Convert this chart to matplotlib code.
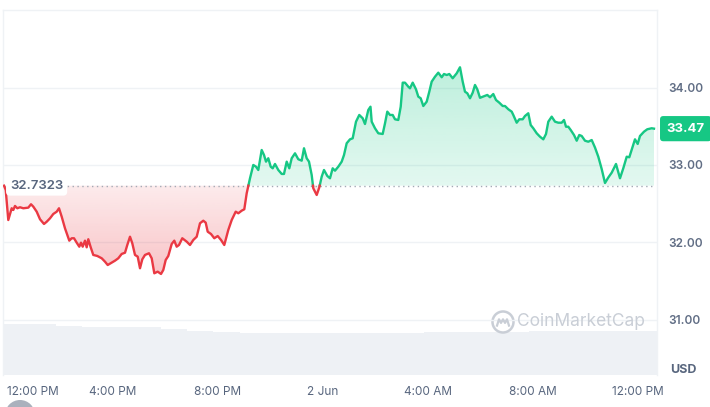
import numpy as np
import matplotlib.pyplot as plt
from matplotlib.colors import to_rgb
from matplotlib.patches import Ellipse
from matplotlib.lines import Line2D

plt.rcParams['font.family'] = ['Inter', 'DejaVu Sans']

# hours since 12:00 PM (1 Jun) and price in USD
hours = [-0.114, -0.049, 0.049, 0.179, 0.240, 0.304, 0.392, 0.494, 0.620, 0.810,
         0.913, 1.000, 1.129, 1.255, 1.407, 1.510, 1.635, 1.760, 1.890, 1.977,
         2.080, 2.205, 2.369, 2.460, 2.548, 2.650, 2.749, 2.814, 2.878, 2.966,
         3.030, 3.091, 3.183, 3.281, 3.433, 3.601, 3.726, 3.829, 3.981, 4.106,
         4.232, 4.361, 4.487, 4.574, 4.677, 4.764, 4.867, 4.970, 5.057, 5.145,
         5.247, 5.399, 5.502, 5.601, 5.730, 5.856, 5.943, 6.034, 6.133, 6.262,
         6.361, 6.452, 6.540, 6.665, 6.833, 6.958, 7.084, 7.213, 7.338, 7.464,
         7.555, 7.631, 7.757, 7.882, 8.011, 8.137, 8.262, 8.414, 8.544, 8.696,
         8.795, 8.924, 9.023, 9.114, 9.240, 9.365, 9.468, 9.555, 9.684, 9.772,
         9.848, 9.935, 10.027, 10.103, 10.190, 10.316, 10.445, 10.532, 10.635, 10.734,
         10.825, 10.951, 11.076, 11.205, 11.293, 11.395, 11.483, 11.585, 11.646, 11.776,
         11.875, 11.966, 12.053, 12.179, 12.281, 12.384, 12.471, 12.597, 12.726, 12.814,
         12.916, 13.042, 13.144, 13.270, 13.395, 13.525, 13.612, 13.738, 13.821, 13.867,
         13.992, 14.118, 14.285, 14.373, 14.460, 14.563, 14.665, 14.753, 14.878, 14.970,
         15.046, 15.133, 15.259, 15.323, 15.426, 15.551, 15.639, 15.730, 15.829, 15.958,
         16.057, 16.148, 16.274, 16.399, 16.529, 16.616, 16.719, 16.818, 16.947, 17.099,
         17.224, 17.327, 17.414, 17.502, 17.605, 17.707, 17.795, 17.882, 17.985, 18.137,
         18.262, 18.365, 18.490, 18.593, 18.719, 18.848, 18.935, 19.061, 19.190, 19.251,
         19.380, 19.479, 19.608, 19.696, 19.821, 19.913, 20.011, 20.141, 20.266, 20.392,
         20.494, 20.582, 20.711, 20.837, 20.962, 21.091, 21.179, 21.255, 21.342, 21.433,
         21.559, 21.662, 21.760, 21.852, 21.977, 22.103, 22.232, 22.357, 22.483, 22.612,
         22.738, 22.863, 22.992, 23.156, 23.308, 23.433, 23.563, 23.662, 23.791, 23.878,
         23.981, 24.068, 24.221, 24.346, 24.513, 24.601]
price = [32.7323, 32.677, 32.288, 32.440, 32.418, 32.470, 32.440, 32.453, 32.440, 32.448,
         32.492, 32.461, 32.396, 32.298, 32.237, 32.266, 32.310, 32.366, 32.396, 32.440,
         32.331, 32.181, 32.021, 32.052, 32.052, 31.995, 31.943, 31.995, 31.943, 32.021,
         31.935, 32.039, 31.935, 31.836, 31.823, 31.793, 31.749, 31.706, 31.736, 31.762,
         31.793, 31.849, 31.865, 31.965, 32.072, 31.987, 31.836, 31.814, 31.664, 31.780,
         31.836, 31.858, 31.793, 31.599, 31.620, 31.590, 31.642, 31.771, 31.823, 31.978,
         32.021, 31.943, 31.965, 32.052, 32.008, 31.965, 32.030, 32.072, 32.246, 32.279,
         32.254, 32.137, 32.107, 32.052, 32.081, 32.030, 31.965, 32.159, 32.288, 32.396,
         32.375, 32.409, 32.427, 32.634, 32.828, 33.000, 32.978, 32.935, 33.194, 33.129,
         33.043, 33.087, 32.978, 32.957, 33.013, 32.935, 32.884, 32.884, 33.043, 32.957,
         33.087, 33.151, 33.074, 33.056, 33.216, 33.087, 33.043, 32.871, 32.699, 32.612,
         32.711, 32.849, 32.935, 32.858, 32.828, 32.957, 32.926, 32.978, 33.043, 33.129,
         33.281, 33.332, 33.345, 33.560, 33.647, 33.604, 33.530, 33.712, 33.754, 33.560,
         33.475, 33.410, 33.401, 33.539, 33.690, 33.647, 33.647, 33.591, 33.582, 33.754,
         34.065, 34.065, 34.013, 33.992, 34.065, 33.979, 33.884, 33.863, 33.763, 33.819,
         33.948, 34.078, 34.142, 34.194, 34.135, 34.177, 34.164, 34.177, 34.122, 34.186,
         34.264, 34.078, 33.948, 33.928, 33.863, 33.935, 34.035, 33.979, 33.869, 33.889,
         33.906, 33.876, 33.918, 33.841, 33.806, 33.763, 33.763, 33.721, 33.690, 33.647,
         33.547, 33.591, 33.591, 33.634, 33.669, 33.517, 33.475, 33.410, 33.366, 33.332,
         33.401, 33.560, 33.625, 33.560, 33.547, 33.547, 33.582, 33.495, 33.495, 33.453,
         33.388, 33.314, 33.388, 33.375, 33.314, 33.301, 33.323, 33.226, 33.107, 32.948,
         32.767, 32.838, 32.900, 33.013, 32.828, 32.957, 33.107, 33.100, 33.237, 33.332,
         33.272, 33.375, 33.431, 33.462, 33.475, 33.470]
base_price = 32.7323
last_price = 33.47

# hourly 24h-volume bars (relative units)
volume = [51.0, 51.0, 49.5, 48.3, 48.3, 48.3, 46.5, 44.5, 43.2, 42.2,
          41.7, 41.7, 42.0, 42.3, 42.3, 42.5, 43.0, 43.0, 43.3, 43.5,
          43.7, 43.7, 43.7, 43.7, 43.7]
volume_start = -0.15

xtick_hours = [0, 4, 8, 12, 16, 20, 24]
xtick_labels = ['12:00 PM', '4:00 PM', '8:00 PM', '2 Jun', '4:00 AM', '8:00 AM', '12:00 PM']
ytick_values = [31, 32, 33, 34]

GREEN = '#16c784'
RED = '#ea3943'
GRID = '#eff2f5'
TEXT = '#58667e'

fig = plt.figure(figsize=(7.1, 4.07), dpi=100, facecolor='white')
ax = fig.add_axes([3 / 710, 1 - 375 / 407, 654 / 710, 365 / 407])
ax2 = ax.twinx()

# volume in the background
vx = volume_start + np.arange(len(volume))
ax2.bar(vx, volume, width=1.0, align='edge', color='#eef1f5', lw=0)
ax2.set_ylim(0, max(volume) * 365 / 51)
ax2.set_yticks([])
for s in ax2.spines.values():
    s.set_visible(False)
ax.set_zorder(ax2.get_zorder() + 1)
ax.patch.set_visible(False)

# insert baseline crossings so the colour switch is exact
t = np.array(hours)
p = np.array(price)
tt, pp = [t[0]], [p[0]]
for i in range(1, len(t)):
    a, b = p[i - 1] - base_price, p[i] - base_price
    if a * b < 0:
        tt.append(t[i - 1] + (t[i] - t[i - 1]) * a / (a - b))
        pp.append(base_price)
    tt.append(t[i])
    pp.append(p[i])
tt = np.array(tt)
pp = np.array(pp)


def grad_fill(upper, color):
    yf = np.maximum(pp, base_price) if upper else np.minimum(pp, base_price)
    poly = ax.fill_between(tt, base_price, yf, facecolor='none', edgecolor='none')
    lo, hi = (base_price, yf.max()) if upper else (yf.min(), base_price)
    rgba = np.zeros((200, 1, 4))
    rgba[..., :3] = to_rgb(color)
    rgba[:, 0, 3] = np.linspace(0.12, 0.28, 200) if upper else np.linspace(0.30, 0.10, 200)
    im = ax.imshow(rgba, extent=[tt[0], tt[-1], lo, hi], origin='lower',
                   aspect='auto', zorder=1, interpolation='bilinear')
    im.set_clip_path(poly.get_paths()[0], transform=ax.transData)


grad_fill(True, GREEN)
grad_fill(False, RED)

ax.plot(tt, np.where(pp >= base_price, pp, np.nan), color=GREEN, lw=1.7,
        zorder=4, solid_joinstyle='round')
ax.plot(tt, np.where(pp <= base_price, pp, np.nan), color=RED, lw=1.7,
        zorder=4, solid_joinstyle='round')
ax.hlines(base_price, tt[0], tt[-1], colors='#a3aab5', lw=1.0,
          linestyles=(0, (1, 2.5)), zorder=3)

ax.set_xlim(-0.152, 24.715)
ax.set_ylim(30.283, 35.005)

ax.yaxis.tick_right()
ax.set_yticks(ytick_values)
ax.set_yticklabels([f'{v:.2f}' for v in ytick_values])
ax.tick_params(axis='y', length=0, pad=8, labelsize=8.5, labelcolor='#616e85')
for lbl in ax.get_yticklabels():
    lbl.set_fontweight('semibold')
ax.set_xticks(xtick_hours)
ax.set_xticklabels(xtick_labels)
ax.tick_params(axis='x', length=0, pad=8, labelsize=8.5, labelcolor=TEXT)
ax.get_xticklabels()[0].set_ha('left')

ax.grid(axis='y', color=GRID, lw=1)
ax.set_axisbelow(True)
for side in ['left', 'top', 'right']:
    ax.spines[side].set_color(GRID)
    ax.spines[side].set_linewidth(1)
ax.spines['bottom'].set_visible(False)

# baseline value label and last price tag
ax.text(0.0107, base_price, '32.7323', transform=ax.get_yaxis_transform(),
        ha='left', va='center', fontsize=9.5, color=TEXT, fontweight='semibold',
        bbox=dict(boxstyle='round,pad=0.3', fc='white', ec='none'), zorder=6)
ax.text(1.0147, last_price, f'{last_price:.2f}', transform=ax.get_yaxis_transform(),
        ha='left', va='center', fontsize=9.5, color='white', fontweight='bold',
        bbox=dict(boxstyle='round,pad=0.5,rounding_size=0.25', fc=GREEN, ec='none'),
        clip_on=False, zorder=6)

fig.text(683 / 710, 1 - 370 / 407, 'USD', ha='center', va='center',
         fontsize=9, fontweight='bold', color=TEXT)

# watermark
wm = '#c9ced6'
fig.text(517 / 710, 1 - 322 / 407, 'CoinMarketCap', ha='left', va='center',
         fontsize=12.5, color=wm)
cx, cy = 503, 407 - 322
fig.add_artist(Ellipse((cx / 710, cy / 407), 21 / 710, 21 / 407, fill=False,
                       ec=wm, lw=1.8))
mx = np.array([-6, -4, -2, 0, 2, 4, 6])
my = np.array([-4, 3, -1, 3, -1, 3, -4])
fig.add_artist(Line2D((cx + mx) / 710, (cy + my * 0.9) / 407, color=wm, lw=1.6,
                      transform=fig.transFigure))

# partly hidden button at the bottom left
fig.add_artist(Ellipse((20 / 710, -8 / 407), 30 / 710, 30 / 407, fc='#aab1bd', ec='none'))

fig.savefig('out.png', dpi=100)
